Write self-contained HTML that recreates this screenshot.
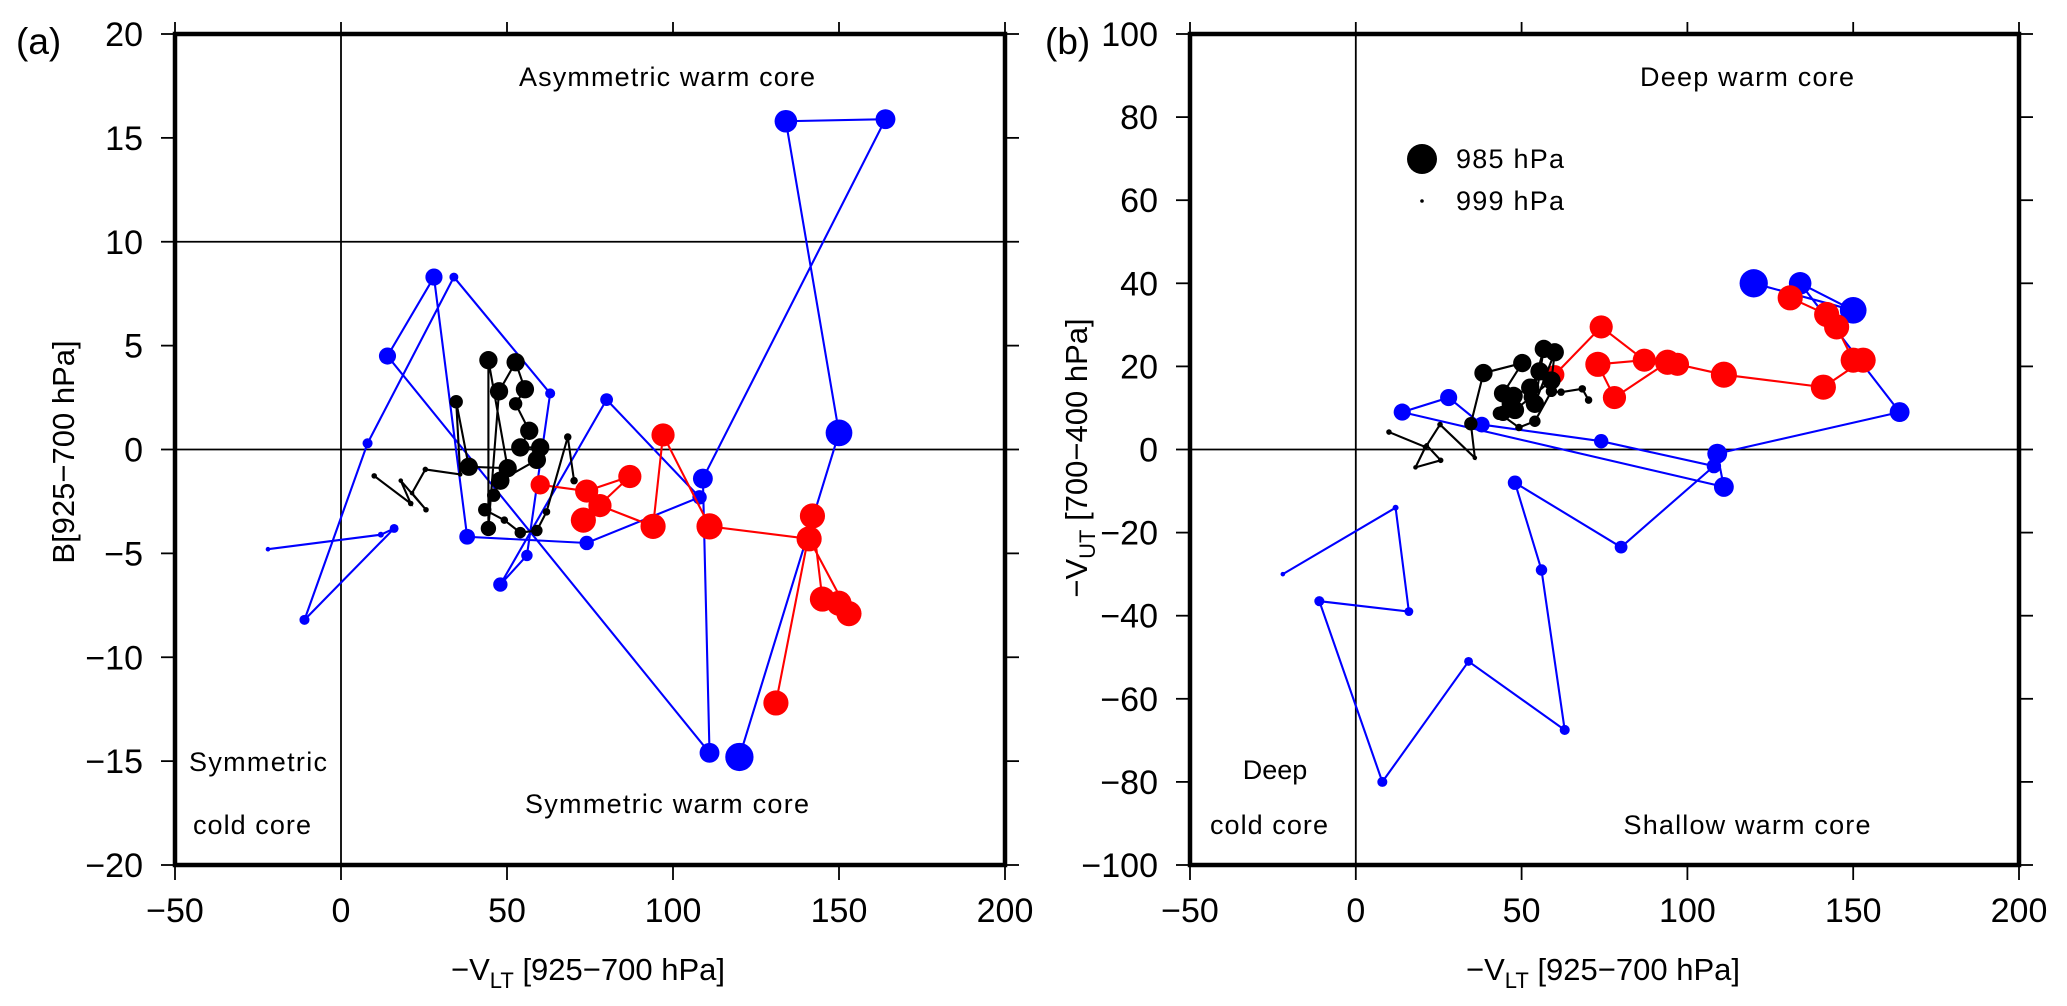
<!DOCTYPE html>
<html><head><meta charset="utf-8">
<style>
html,body{margin:0;padding:0;background:#fff;}
svg{display:block;font-family:"Liberation Sans",Arial,sans-serif;}
</style></head>
<body>
<svg id="chart" xmlns="http://www.w3.org/2000/svg" width="2067" height="1006" viewBox="0 0 2067 1006">
</svg>
<script>
// ---- data: x = -VLT, A = B[925-700], U = -VUT, P = min pressure (hPa)
const blueX = [-22,12,16,-11,8,34,63,56,48,80,108,74,38,28,14,111,109,164,134,150,120];
const blueA = [-4.8,-4.1,-3.8,-8.2,0.3,8.3,2.7,-5.1,-6.5,2.4,-2.3,-4.5,-4.2,8.3,4.5,-14.6,-1.4,15.9,15.8,0.8,-14.8];
const blueU = [-30,-14,-39,-36.5,-80,-51,-67.5,-29,-8,-23.5,-4,2,6,12.5,9,-9,-1,9,40,33.5,40];
const blueP = [998.5,997.8,996.3,995.7,995.7,996.3,995.7,995,993.5,994.3,993.5,993.5,992.8,992.1,992.1,990.7,990.7,990.7,989.3,987.2,986.4];

const redX = [60,74,87,73,78,94,97,111,141,153,150,145,142,131];
const redA = [-1.7,-2.0,-1.3,-3.4,-2.7,-3.7,0.7,-3.7,-4.3,-7.9,-7.4,-7.2,-3.2,-12.2];
const redU = [18,29.5,21.5,20.5,12.5,21,20.5,18,15,21.5,21.5,29.5,32.5,36.5];
const redP = [991,989,989,988,989,988,989,987.5,988,988,988,988,988,988];

const blackX = [10,21,18,25.6,21.4,25.4,35.9,34.7,38.5,50.2,44.4,44.4,47.6,52.6,55.4,52.6,56.7,54,60,59,48,46,43.3,49.2,54,59,61.9,68.3,70.2];
const blackA = [-1.27,-2.6,-1.5,-2.9,-2.1,-0.96,-1.2,2.3,-0.83,-0.9,4.3,-3.8,2.8,4.2,2.9,2.2,0.9,0.1,0.1,-0.5,-1.5,-2.2,-2.9,-3.4,-4.0,-3.9,-3.0,0.6,-1.5];
const blackU = [4.2,0.6,-4.3,-2.6,1,6,-2,6.2,18.4,20.8,13.5,8.7,12.9,14.9,18.8,12.6,24.2,11,23.4,16.6,9.5,11,8.7,5.3,6.8,14,13.8,14.6,11.9];
const blackP = [998,998,998.5,998,998.5,998,998.5,994,991.5,991.5,991.5,993,991.5,991.5,991.5,994,991.5,991.5,991.5,991.5,991.5,994,994,997,995,995,997,997,997];

const xTicks = [-50,0,50,100,150,200];
const aTicks = [-20,-15,-10,-5,0,5,10,15,20];
const uTicks = [-100,-80,-60,-40,-20,0,20,40,60,80,100];

const NS = "http://www.w3.org/2000/svg";
const svg = document.getElementById('chart');
function el(tag, attrs, parent){
  const e = document.createElementNS(NS, tag);
  for (const k in attrs) e.setAttribute(k, attrs[k]);
  (parent||svg).appendChild(e);
  return e;
}
function rad(p){ return 1.8 + (999 - p) * 0.98; }

const T = 34, Bm = 865;
const panels = [
  {L:175, R:1005, ymin:-20, ymax:20, yKey:'A', ticks:aTicks, name:'a'},
  {L:1190, R:2019, ymin:-100, ymax:100, yKey:'U', ticks:uTicks, name:'b'}
];
const series = [
  {name:'blue', color:'#0000ff', X:blueX, A:blueA, U:blueU, P:blueP},
  {name:'red', color:'#ff0000', X:redX, A:redA, U:redU, P:redP},
  {name:'black', color:'#000000', X:blackX, A:blackA, U:blackU, P:blackP}
];

panels.forEach(pn => {
  const sx = v => pn.L + (v + 50) / 250 * (pn.R - pn.L);
  const sy = v => Bm - (v - pn.ymin) / (pn.ymax - pn.ymin) * (Bm - T);
  const g = el('g', {});
  
  
  const z1 = el('line', {x1:sx(0), x2:sx(0), y1:T, y2:Bm, stroke:'#000', 'stroke-width':1.8}, g);
  
  
  const z2 = el('line', {x1:pn.L, x2:pn.R, y1:sy(0), y2:sy(0), stroke:'#000', 'stroke-width':1.8}, g);
  
  
  if (pn.name === 'a') {
    const z3 = el('line', {x1:pn.L, x2:pn.R, y1:sy(10), y2:sy(10), stroke:'#000', 'stroke-width':1.8}, g);
    
    
  }
  series.forEach(s => {
    const Y = s[pn.yKey];
    const pts = s.X.map((x, i) => sx(x) + ',' + sy(Y[i])).join(' ');
    const pl = el('polyline', {points:pts, fill:'none', stroke:s.color, 'stroke-width':2.1}, g);
    
    
    s.X.forEach((x, i) => {
      const c = el('circle', {cx:sx(x), cy:sy(Y[i]), r:rad(s.P[i]), fill:s.color}, g);
      
      
    });
  });
  const fr = el('rect', {x:pn.L, y:T, width:pn.R - pn.L, height:Bm - T, fill:'none', stroke:'#000', 'stroke-width':4.5}, g);
  
  
  xTicks.forEach(v => {
    const x = sx(v);
    el('line', {x1:x, x2:x, y1:Bm, y2:Bm + 15, stroke:'#000', 'stroke-width':1.8}, g);
    el('line', {x1:x, x2:x, y1:T, y2:T - 12, stroke:'#000', 'stroke-width':1.8}, g);
    const t = el('text', {x:x, y:922, 'font-size':34, 'text-anchor':'middle'}, g);
    t.textContent = v < 0 ? '\u2212' + (-v) : String(v);
    
    
  });
  pn.ticks.forEach(v => {
    const y = sy(v);
    el('line', {x1:pn.L - 14, x2:pn.L, y1:y, y2:y, stroke:'#000', 'stroke-width':1.8}, g);
    el('line', {x1:pn.R, x2:pn.R + 14, y1:y, y2:y, stroke:'#000', 'stroke-width':1.8}, g);
    const t = el('text', {x:pn.L - 32, y:y + 12, 'font-size':34, 'text-anchor':'end'}, g);
    t.textContent = v < 0 ? '\u2212' + (-v) : String(v);
    
    
  });
});

function text(x, y, s, size, name, anchor, extra){
  const t = el('text', Object.assign({x:x, y:y, 'font-size':size, 'text-anchor':anchor||'middle'}, extra||{}));
  t.textContent = s;
  
  
  return t;
}
text(16, 54, '(a)', 37, 'panel-label-a', 'start');
text(1045, 54, '(b)', 37, 'panel-label-b', 'start');
text(667, 86, 'Asymmetric warm core', 27, 'region-label-asymmetric-warm', 'middle', {textLength:296});
text(667, 813, 'Symmetric warm core', 27, 'region-label-symmetric-warm', 'middle', {textLength:284});
text(258, 771, 'Symmetric', 27, 'region-label-symmetric-cold', 'middle', {textLength:138});
text(252, 834, 'cold core', 27, 'region-label-cold-core-a', 'middle', {textLength:118});
text(1747, 86, 'Deep warm core', 27, 'region-label-deep-warm', 'middle', {textLength:214});
text(1747, 834, 'Shallow warm core', 27, 'region-label-shallow-warm', 'middle', {textLength:247});
text(1275, 779, 'Deep', 27, 'region-label-deep-cold', 'middle');
text(1269, 834, 'cold core', 27, 'region-label-cold-core-b', 'middle', {textLength:118});

function xTitle(cx, name){
  const t = el('text', {x:cx, y:980, 'font-size':31, 'text-anchor':'middle'});
  
  
  t.innerHTML = '\u2212V<tspan font-size="22" dy="8">LT</tspan><tspan dy="-8"> [925\u2212700 hPa]</tspan>';
}
xTitle(588, 'x-axis-title-a');
xTitle(1603, 'x-axis-title-b');
const ya = el('text', {x:0, y:0, 'font-size':31, 'text-anchor':'middle', transform:'translate(74,452) rotate(-90)'});


ya.textContent = 'B[925\u2212700 hPa]';
const yb = el('text', {x:0, y:0, 'font-size':31, 'text-anchor':'middle', transform:'translate(1087,458) rotate(-90)'});


yb.innerHTML = '\u2212V<tspan font-size="22" dy="8">UT</tspan><tspan dy="-8"> [700\u2212400 hPa]</tspan>';

const lg = el('g', {});


const ld1 = el('circle', {cx:1422, cy:159, r:15, fill:'#000'}, lg);


const ld2 = el('circle', {cx:1422, cy:201, r:1.8, fill:'#000'}, lg);


const lt1 = el('text', {x:1456, y:168, 'font-size':27, textLength:108}, lg);
lt1.textContent = '985 hPa';


const lt2 = el('text', {x:1456, y:210, 'font-size':27, textLength:108}, lg);
lt2.textContent = '999 hPa';


</script>
</body></html>
